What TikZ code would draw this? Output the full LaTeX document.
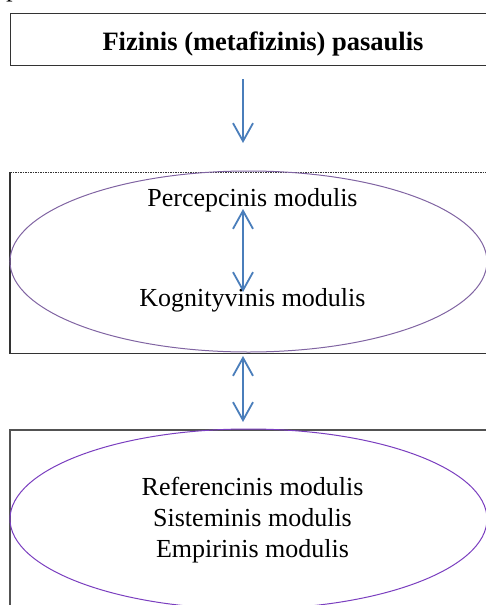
\documentclass[tikz,border=0pt]{standalone}
\usepackage{fontspec}
\setmainfont{Liberation Serif}
\usetikzlibrary{arrows.meta,shapes.geometric}
\definecolor{arrowblue}{HTML}{4A7EBB}
\definecolor{ellpurple}{HTML}{8064A2}
\definecolor{ellpurple2}{HTML}{7A3EBF}
\definecolor{boxgray}{HTML}{333333}
\tikzset{
  boxline/.style={draw=boxgray, line width=1.4pt},
  ell/.style={draw=ellpurple, line width=1pt},
  conn/.style={draw=arrowblue, line width=1.8pt, -{Straight Barb[length=18pt,width=20pt]}},
  dconn/.style={draw=arrowblue, line width=1.8pt, {Straight Barb[length=18pt,width=20pt]}-{Straight Barb[length=18pt,width=20pt]}},
  lbl/.style={font=\fontsize{26}{30}\selectfont, inner sep=0pt, align=center}
}
\begin{document}
\begin{tikzpicture}[x=1pt,y=-1pt]
\useasboundingbox (0,0) rectangle (486,605);
% cut-off caption fragment
\node[font=\fontsize{26}{30}\selectfont\itshape, anchor=base west, inner sep=0pt] (cap) at (8,-3.5) {p};
% box 1
\node[boxline, rectangle, anchor=north west, minimum width=500pt, minimum height=52pt] (b1) at (10,13) {};
\node[lbl, font=\fontsize{26.5}{30}\selectfont\bfseries, anchor=base] (t1) at (263,50) {Fizinis (metafizinis) pasaulis};
% box 2
\node[rectangle, anchor=north west, minimum width=500pt, minimum height=181pt, inner sep=0pt] (b2) at (10,172) {};
\draw[boxline] (b2.north west) -- (b2.south west) -- (b2.south east);
\draw[draw=boxgray, line width=1pt, dash pattern=on 1.5pt off 1pt] (b2.north west) -- (b2.north east);
\node[ell, ellipse, minimum width=477pt, minimum height=181pt, inner sep=0pt] (e2) at (248.5,261.5) {};
\node[lbl, anchor=base] (p) at (252.5,206.5) {Percepcinis modulis};
\node[lbl, anchor=base] (k) at (252.5,306) {Kognityvinis modulis};
% box 3
\node[rectangle, anchor=north west, minimum width=500pt, minimum height=200pt, inner sep=0pt] (b3) at (10,430) {};
\draw[draw=boxgray!85!white, line width=1.6pt] (b3.south west) -- (b3.north west) -- (b3.north east);
\node[ell, draw=ellpurple2, ellipse, minimum width=477pt, minimum height=180pt, inner sep=0pt] (e3) at (248.5,519) {};
\node[lbl, anchor=base] (r) at (252.5,495) {Referencinis modulis};
\node[lbl, anchor=base] (s) at (252.5,526) {Sisteminis modulis};
\node[lbl, anchor=base] (em) at (252.5,557.5) {Empirinis modulis};
% connectors
\coordinate (a1s) at (243,79);
\coordinate (a1e) at (243,143);
\coordinate (a2s) at (243,209);
\coordinate (a2e) at (243,292);
\coordinate (a3s) at (243,356);
\coordinate (a3e) at (243,422);
\draw[conn] (a1s) -- (a1e);
\draw[dconn] (a2s) -- (a2e);
\draw[dconn] (a3s) -- (a3e);
\end{tikzpicture}
\end{document}
